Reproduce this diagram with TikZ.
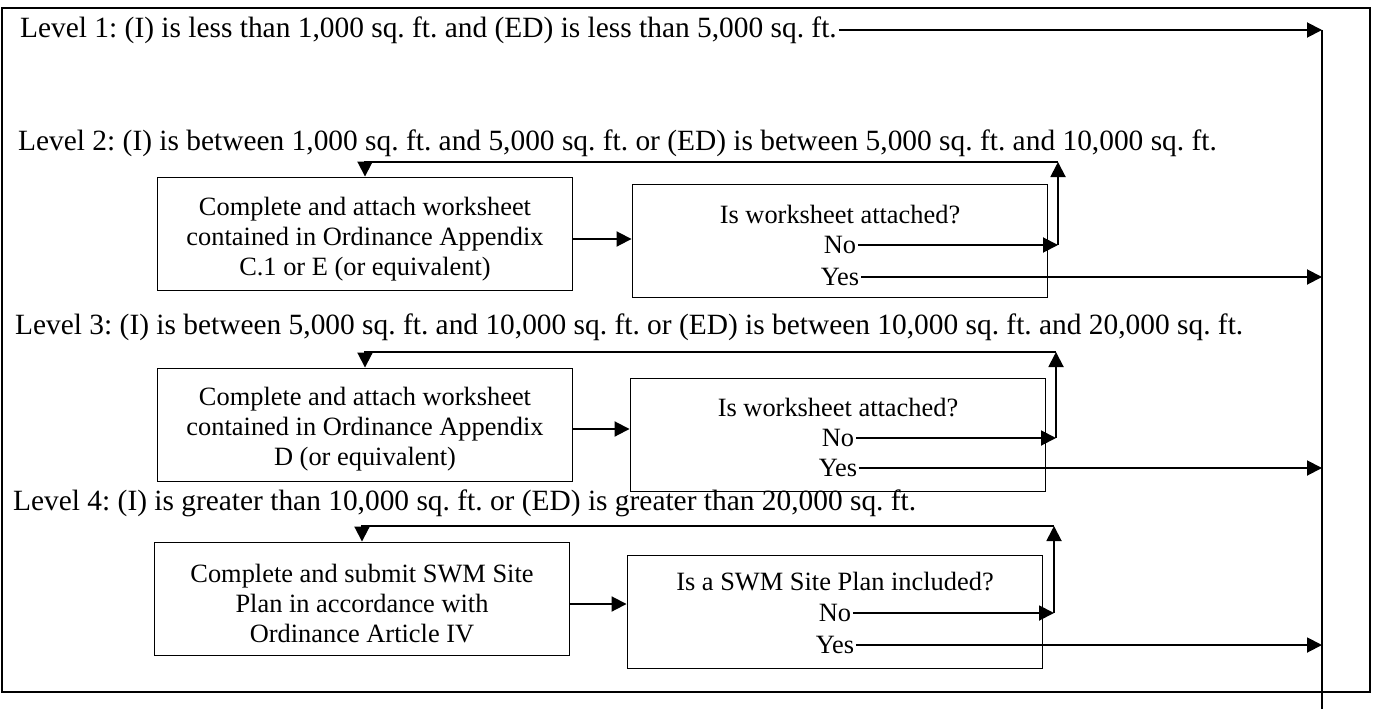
\documentclass[tikz,border=0pt]{standalone}
\usepackage{fontspec}
\setmainfont{Liberation Serif}
\usetikzlibrary{arrows.meta,positioning}
\frenchspacing

\begin{document}
\begin{tikzpicture}[x=1pt, y=-1pt,
    level/.style={anchor=west, inner sep=0pt, font=\fontsize{29.4}{32}\selectfont},
    box/.style={draw, line width=1.9pt, minimum width=415pt, minimum height=113pt, inner sep=0pt},
    boxtext/.style={align=center, inner sep=0pt, font=\fontsize{26.4}{30}\selectfont},
    answer/.style={inner sep=1.5pt, font=\fontsize{26.4}{30}\selectfont},
    wire/.style={line width=1.9pt},
    flow/.style={line width=1.9pt, -{Triangle[length=15pt, width=15pt]}}
]
\useasboundingbox (0,0) rectangle (1388,709);

\draw[wire] (2,8) rectangle (1370,692);

\coordinate (bus) at (1322,30);
\coordinate (busEnd) at (1322,709);
\draw[wire] (bus) -- (busEnd);

% Level 1
\node[level] (l1) at (20,30) {Level 1: (I) is less than 1,000 sq. ft. and (ED) is less than 5,000 sq. ft.};
\draw[flow] ([xshift=2pt]l1.east) -- (bus);

% Level 2
\node[level] (l2) at (18,143) {Level 2: (I) is between 1,000 sq. ft. and 5,000 sq. ft. or (ED) is between 5,000 sq. ft. and 10,000 sq. ft.};

\node[box] (task2) at (365,234) {};
\node[boxtext] (task2txt) at ([yshift=-5pt]task2.center) {Complete and attach worksheet\\contained in Ordinance Appendix\\C.1 or E (or equivalent)};

\node[box] (check2) at (840,241) {};
\node[answer] (q2) at (840,215) {Is worksheet attached?};
\node[answer] (no2) at (840,245) {No};
\node[answer] (yes2) at (840,277) {Yes};

\coordinate (turn2) at (1058,245);
\coordinate (top2) at (1058,162);

\draw[flow] (task2txt.east -| task2.east) -- (task2txt.east -| check2.west);
\draw[flow] (no2.east) -- (turn2);
\draw[flow] (turn2) -- (top2);
\draw[flow] (top2) -| (task2.north);
\draw[flow] (yes2.east) -- (yes2.east -| bus);

% Level 3
\node[level] (l3) at (15,327) {Level 3: (I) is between 5,000 sq. ft. and 10,000 sq. ft. or (ED) is between 10,000 sq. ft. and 20,000 sq. ft.};

\node[box] (task3) at (365,425) {};
\node[boxtext] (task3txt) at ([yshift=-4pt]task3.center) {Complete and attach worksheet\\contained in Ordinance Appendix\\D (or equivalent)};

\node[box] (check3) at (838,435) {};
\node[answer] (q3) at (838,408) {Is worksheet attached?};
\node[answer] (no3) at (838,438) {No};
\node[answer] (yes3) at (838,468) {Yes};

\coordinate (turn3) at (1056,438);
\coordinate (top3) at (1056,352);

\draw[flow] (task3txt.east -| task3.east) -- (task3txt.east -| check3.west);
\draw[flow] (no3.east) -- (turn3);
\draw[flow] (turn3) -- (top3);
\draw[flow] (top3) -| (task3.north);
\draw[flow] (yes3.east) -- (yes3.east -| bus);

% Level 4
\node[level] (l4) at (13,503) {Level 4: (I) is greater than 10,000 sq. ft. or (ED) is greater than 20,000 sq. ft.};

\node[box] (task4) at (362,599) {};
\node[boxtext] (task4txt) at ([yshift=-5pt]task4.center) {Complete and submit SWM Site\\Plan in accordance with\\Ordinance Article IV};

\node[box] (check4) at (835,612) {};
\node[answer] (q4) at (835,582) {Is a SWM Site Plan included?};
\node[answer] (no4) at (835,613) {No};
\node[answer] (yes4) at (835,645) {Yes};

\coordinate (turn4) at (1054,613);
\coordinate (top4) at (1054,526);

\draw[flow] (task4txt.east -| task4.east) -- (task4txt.east -| check4.west);
\draw[flow] (no4.east) -- (turn4);
\draw[flow] (turn4) -- (top4);
\draw[flow] (top4) -| (task4.north);
\draw[flow] (yes4.east) -- (yes4.east -| bus);

\end{tikzpicture}
\end{document}
